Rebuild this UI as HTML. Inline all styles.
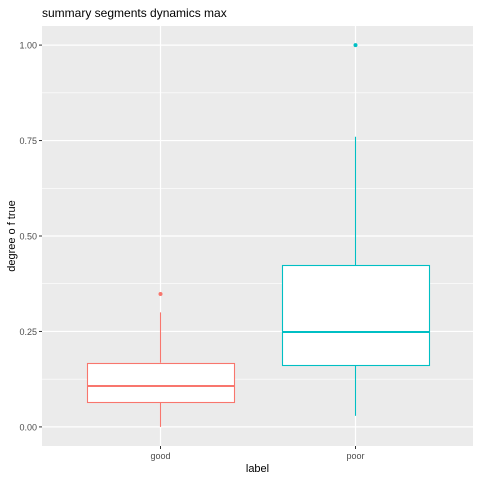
<!DOCTYPE html>
<html><head><meta charset="utf-8"><style>
body{margin:0;background:#fff;}
text{font-family:"Liberation Sans",sans-serif;}
</style></head><body>
<svg id="chart" width="480" height="480"></svg>
<script>
const categories = ["good","poor"];
const colors = ["#F8766D","#00BFC4"];
const lowWhisker = [0.0, 0.029];
const q1 = [0.065, 0.162];
const medians = [0.107, 0.249];
const q3 = [0.168, 0.424];
const highWhisker = [0.30, 0.76];
const outliers = [[0.348],[1.0]];
const yTicks = [0, 0.25, 0.5, 0.75, 1.0];
const yTickLabels = ["0.00","0.25","0.50","0.75","1.00"];

const NS="http://www.w3.org/2000/svg";
const svg=document.getElementById('chart');
const L=42,R=473,T=26,B=446;
const y0=-0.05,y1=1.05;
const yS=v=>B-(v-y0)/(y1-y0)*(B-T);
const step=(R-L)/2.2;
const xS=i=>Math.round(L+(0.6+i)*step)+0.5;
function mk(tag,attrs,parent){const e=document.createElementNS(NS,tag);for(const k in attrs)e.setAttribute(k,attrs[k]);(parent||svg).appendChild(e);return e;}

const panel=mk('rect',{x:L,y:T,width:R-L,height:B-T,fill:'#EBEBEB'});


for(let i=0;i<yTicks.length-1;i++){
  const v=(yTicks[i]+yTicks[i+1])/2;
  const g=mk('line',{x1:L,x2:R,y1:yS(v),y2:yS(v),stroke:'#fff','stroke-width':0.6});
  
  
}
yTicks.forEach((v,i)=>{
  const g=mk('line',{x1:L,x2:R,y1:yS(v),y2:yS(v),stroke:'#fff','stroke-width':1.2});
  
  
  const t=mk('line',{x1:L-3,x2:L,y1:yS(v),y2:yS(v),stroke:'#333','stroke-width':1});
  
  
  const lb=mk('text',{x:L-5,y:yS(v)+3.5,'text-anchor':'end','font-size':9,fill:'#4D4D4D'});
  lb.textContent=yTickLabels[i];
  
  
});
categories.forEach((c,i)=>{
  const x=xS(i);
  const g=mk('line',{x1:x,x2:x,y1:T,y2:B,stroke:'#fff','stroke-width':1.2});
  
  
  const t=mk('line',{x1:x,x2:x,y1:B,y2:B+3,stroke:'#333','stroke-width':1});
  
  
  const lb=mk('text',{x:x,y:B+13,'text-anchor':'middle','font-size':9,fill:'#4D4D4D'});
  lb.textContent=c;
  
  
});
categories.forEach((c,i)=>{
  const x=xS(i),w=Math.round(step*0.75),col=colors[i];
  const bx=Math.round(x-w/2)+0.5;
  const grp=mk('g',{});
  
  
  mk('line',{x1:x,x2:x,y1:yS(lowWhisker[i]),y2:yS(q1[i]),stroke:col,'stroke-width':1.1},grp);
  mk('line',{x1:x,x2:x,y1:yS(q3[i]),y2:yS(highWhisker[i]),stroke:col,'stroke-width':1.1},grp);
  mk('rect',{x:bx,y:Math.round(yS(q3[i]))+0.5,width:w,height:Math.round(yS(q1[i])-yS(q3[i])),fill:'#fff',stroke:col,'stroke-width':1.1},grp);
  mk('line',{x1:bx,x2:bx+w,y1:Math.round(yS(medians[i])),y2:Math.round(yS(medians[i])),stroke:col,'stroke-width':2},grp);
  outliers[i].forEach(v=>{
    const p=mk('circle',{cx:x,cy:yS(v),r:2,fill:col});
    
    
  });
});
const title=mk('text',{x:L,y:17,'font-size':12,fill:'#000'});
title.textContent='summary segments dynamics max';


const xt=mk('text',{x:(L+R)/2,y:472,'text-anchor':'middle','font-size':11,fill:'#000'});
xt.textContent='label';


const yt=mk('text',{x:0,y:0,'text-anchor':'middle','font-size':11,fill:'#000',transform:`translate(15,${(T+B)/2}) rotate(-90)`});
yt.textContent='degree o f true';


</script>
</body></html>
